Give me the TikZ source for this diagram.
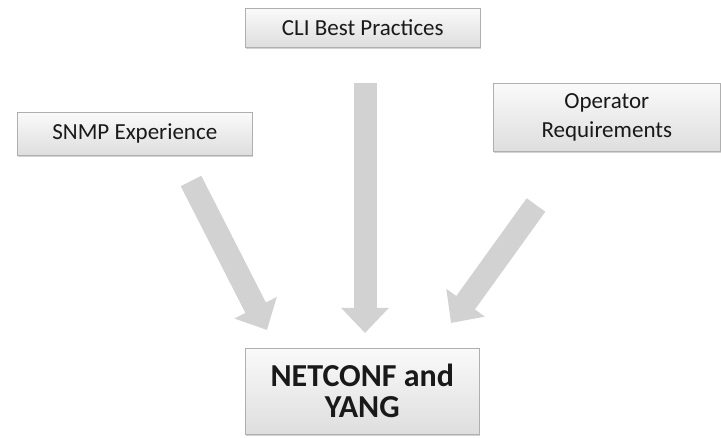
\documentclass[tikz,border=0pt]{standalone}
\usepackage{fontspec}
\setmainfont{Carlito}
\usetikzlibrary{arrows.meta,shadows}
\definecolor{boxline}{RGB}{175,175,175}
\definecolor{arrowgray}{RGB}{210,210,210}
\definecolor{txt}{RGB}{25,25,25}
\begin{document}
\begin{tikzpicture}[x=1pt,y=-1pt,
  srcbox/.style={draw=boxline, line width=0.6pt, top color=white!98!black, bottom color=white!87!black,
    drop shadow={shadow xshift=1pt,shadow yshift=-1.5pt,opacity=0.35},
    inner sep=0pt, text=txt, align=center, anchor=north west},
  fatarrow/.style={draw=arrowgray, line width=23pt, -{Triangle[length=25pt,width=46pt]}}]
\useasboundingbox (0,0) rectangle (721,438);
\node[srcbox, minimum width=235pt, minimum height=39pt, font=\fontsize{23}{28}\selectfont] (cli) at (245,8) {CLI Best Practices};
\node[srcbox, minimum width=235pt, minimum height=43pt, font=\fontsize{23}{28}\selectfont] (snmp) at (17,112) {SNMP Experience};
\node[srcbox, minimum width=227pt, minimum height=68pt, font=\fontsize{23}{29}\selectfont] (op) at (493,83) {Operator\\Requirements};
\node[srcbox, minimum width=234pt, minimum height=86pt, font=\bfseries\fontsize{32}{31}\selectfont] (nc) at (245,348) {NETCONF and\\YANG};
\coordinate (ct) at (365,83);
\coordinate (ch) at (365,333);
\coordinate (lt) at (191,181);
\coordinate (lh) at (267,330);
\coordinate (rt) at (536,205);
\coordinate (rh) at (451,323);
\draw[fatarrow] (ct) -- (ch);
\draw[fatarrow] (lt) -- (lh);
\draw[fatarrow] (rt) -- (rh);
\end{tikzpicture}
\end{document}
